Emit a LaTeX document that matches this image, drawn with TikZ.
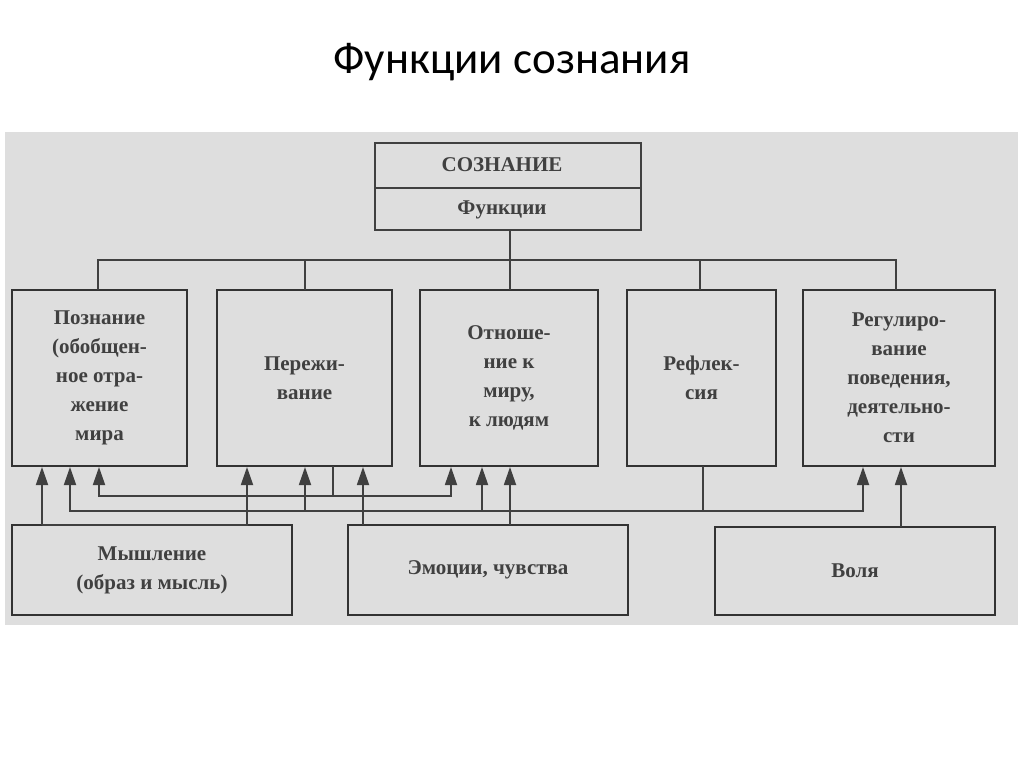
\documentclass[tikz,border=0pt]{standalone}
\usepackage{fontspec}
\setmainfont{Liberation Serif}
\newfontfamily\titlefont{Carlito}
\usetikzlibrary{arrows.meta}
\begin{document}
\begin{tikzpicture}[x=1pt,y=-1pt,
  box/.style={draw=black!80,line width=1.8pt,fill=black!13,text=black!75,font=\bfseries\fontsize{21}{29}\selectfont,align=center,inner sep=0},
  ln/.style={draw=black!75,line width=1.8pt},
  ar/.style={ln,-{Triangle[length=18pt,width=12pt]}}]
\useasboundingbox (0,0) rectangle (1024,767);
\fill[white] (0,0) rectangle (1024,767);
\fill[black!13] (5,132) rectangle (1018,625);
\node[font=\titlefont\fontsize{45}{54}\selectfont] (title) at (512,62) {Функции сознания};
% top box
\draw[ln,fill=black!13] (375,143) rectangle (641,230);
\draw[ln] (375,188) -- (641,188);
\node[text=black!75,font=\bfseries\fontsize{21}{25}\selectfont] (soz) at (502,165) {СОЗНАНИЕ};
\node[text=black!75,font=\bfseries\fontsize{21}{25}\selectfont] (fun) at (502,210) {Функции};
\coordinate (sozb) at (510,230);
% function boxes
\node[box,minimum width=175,minimum height=176] (p1) at (99.5,378) {Познание\\(обобщен-\\ное отра-\\жение\\мира};
\node[box,minimum width=175,minimum height=176] (p2) at (304.5,378) {Пережи-\\вание};
\node[box,minimum width=178,minimum height=176] (p3) at (509,378) {Отноше-\\ние к\\миру,\\к людям};
\node[box,minimum width=149,minimum height=176] (p4) at (701.5,378) {Рефлек-\\сия};
\node[box,minimum width=192,minimum height=176] (p5) at (899,378) {Регулиро-\\вание\\поведения,\\деятельно-\\сти};
% bottom boxes
\node[box,minimum width=280,minimum height=90] (m) at (152,570) {Мышление\\(образ и мысль)};
\node[box,minimum width=280,minimum height=90] (e) at (488,570) {Эмоции, чувства};
\node[box,minimum width=280,minimum height=88] (v) at (855,571) {Воля};
% top bracket
\draw[ln] (sozb) -- (510,260);
\draw[ln] (98,290) -- (98,260) -- (896,260) -- (896,290);
\draw[ln] (305,260) -- (305,290);
\draw[ln] (510,260) -- (510,290);
\draw[ln] (700,260) -- (700,290);
% Мышление
\draw[ar] (42,525) -- (42,467);
\draw[ar] (42,525) -- (247,525) -- (247,467);
% Переживание
\draw[ln] (333,466) -- (333,496);
\draw[ar] (333,496) -- (99,496) -- (99,467);
\draw[ar] (333,496) -- (451,496) -- (451,467);
% Рефлексия
\draw[ln] (703,466) -- (703,511);
\draw[ar] (703,511) -- (70,511) -- (70,467);
\draw[ar] (305,511) -- (305,467);
\draw[ar] (482,511) -- (482,467);
\draw[ar] (703,511) -- (863,511) -- (863,467);
% Эмоции
\draw[ar] (363,525) -- (363,467);
\draw[ar] (510,525) -- (510,467);
% Воля
\draw[ar] (901,527) -- (901,467);
\end{tikzpicture}
\end{document}
